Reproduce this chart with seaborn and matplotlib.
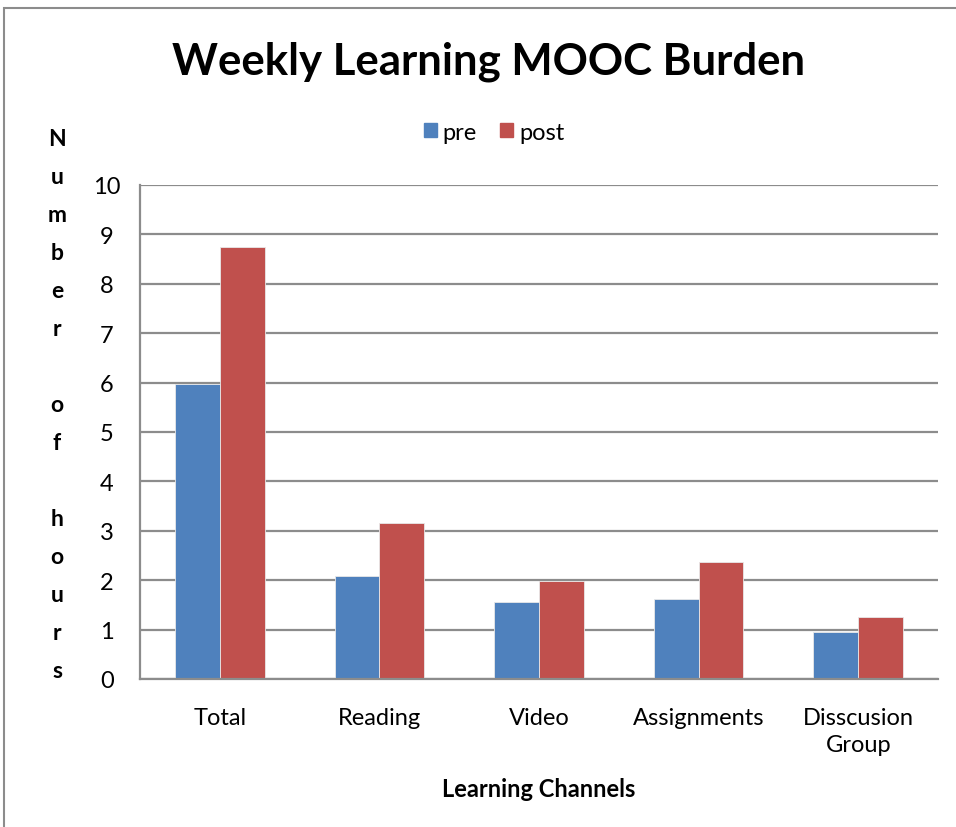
import pandas as pd
import matplotlib.pyplot as plt
import seaborn as sns
from matplotlib.patches import Rectangle

# chart values
channels = ['Total', 'Reading', 'Video', 'Assignments', 'Disscusion\nGroup']
pre = [5.97, 2.09, 1.55, 1.61, 0.95]
post = [8.74, 3.15, 1.99, 2.37, 1.26]
series = ['pre', 'post']
colors = ['#4F81BD', '#C0504D']
y_letters = ['N', 'u', 'm', 'b', 'e', 'r', '', 'o', 'f', '', 'h', 'o', 'u', 'r', 's']

df = pd.DataFrame({'Channel': channels * 2,
                   'Series': ['pre'] * len(pre) + ['post'] * len(post),
                   'Hours': pre + post})

sns.set_style('white')
plt.rcParams['font.family'] = ['Lato', 'DejaVu Sans']
plt.rcParams['text.color'] = 'black'
plt.rcParams['axes.labelcolor'] = 'black'
plt.rcParams['xtick.color'] = 'black'
plt.rcParams['ytick.color'] = 'black'

W, H = 956, 828
fig = plt.figure(figsize=(W / 100, H / 100), dpi=100)
ax = fig.add_axes([140 / W, 1 - 680 / H, (938 - 140) / W, (680 - 186) / H])

sns.barplot(data=df, x='Channel', y='Hours', hue='Series', hue_order=series,
            palette=colors, width=0.5625, gap=0, saturation=1,
            edgecolor='#e8e8e8', linewidth=0.6, ax=ax, legend=False)

grid_c = '#8c8c8c'
fs = 17
ax.set_ylim(0, 10)
ax.set_xlim(-0.5, len(channels) - 0.5)
ax.set_yticks(range(0, 11))
ax.yaxis.grid(True, color=grid_c, linewidth=1.6)
ax.set_axisbelow(True)
for s in ['top', 'right']:
    ax.spines[s].set_visible(False)
for s in ['left', 'bottom']:
    ax.spines[s].set_color(grid_c)
    ax.spines[s].set_linewidth(1.6)

ax.tick_params(axis='y', length=0, pad=24, labelsize=fs, labelcolor='black')
for lbl in ax.get_yticklabels():
    lbl.set_horizontalalignment('center')
ax.tick_params(axis='x', which='major', length=0, pad=20, labelsize=fs, labelcolor='black')
for lbl in ax.get_xticklabels():
    lbl.set_linespacing(1.35)
ax.set_xticks([i - 0.5 for i in range(len(channels) + 1)], minor=True)
ax.tick_params(axis='x', which='minor', length=7, width=1.6, color=grid_c, direction='out')
ax.set_xlabel('Learning Channels', fontsize=fs, fontweight='bold', labelpad=16, color='black')
ax.set_ylabel('')

# title
fig.text(489 / W, 1 - 62 / H, 'Weekly Learning MOOC Burden', ha='center', va='center',
         fontsize=31.5, fontweight='bold')

# stacked y label
for i, ch in enumerate(y_letters):
    fig.text(57 / W, 1 - (140 + i * 38) / H, ch, ha='center', va='center',
             fontsize=16.5, fontweight='bold')

# legend
handles = [Rectangle((0, 0), 1, 1, color=c) for c in colors]
fig.legend(handles, series, loc='center', bbox_to_anchor=(494 / W, 1 - 133 / H),
           ncol=2, frameon=False, fontsize=fs, handlelength=0.55, handleheight=0.55,
           handletextpad=0.25, columnspacing=1.0)

# chart frame
fig.patches.append(Rectangle((4 / W, -0.05), 1.2, 1 - 9 / H + 0.05, transform=fig.transFigure,
                             fill=False, edgecolor='#8c8c8c', linewidth=1.5))

fig.savefig('out.png', dpi=100)
